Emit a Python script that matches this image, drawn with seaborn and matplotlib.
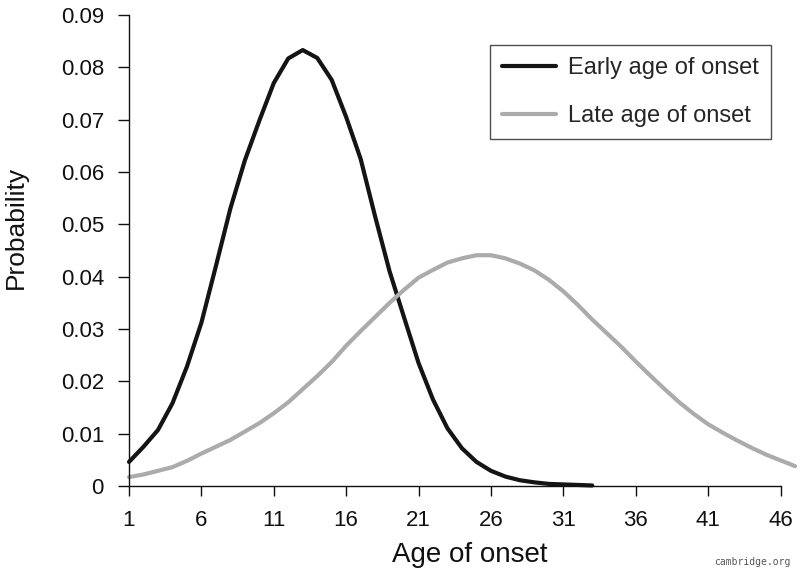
import numpy as np
import pandas as pd
import seaborn as sns
import matplotlib.pyplot as plt

# values
early_age = list(range(1, 34))
early_prob = [0.0046, 0.0075, 0.0107, 0.0158, 0.0228, 0.0312, 0.0420, 0.0530,
              0.0622, 0.0698, 0.0770, 0.0817, 0.0833, 0.0818, 0.0776, 0.0705,
              0.0625, 0.0515, 0.0410, 0.0322, 0.0235, 0.0165, 0.0110, 0.0072,
              0.0046, 0.0029, 0.0018, 0.0011, 0.0007, 0.0004, 0.0003, 0.0002,
              0.0001]

late_age = list(range(1, 48))
late_prob = [0.0017, 0.0022, 0.0029, 0.0036, 0.0048, 0.0062, 0.0075, 0.0088,
             0.0104, 0.0120, 0.0139, 0.0160, 0.0185, 0.0210, 0.0237, 0.0268,
             0.0296, 0.0323, 0.0350, 0.0375, 0.0398, 0.0413, 0.0427, 0.0435,
             0.0441, 0.0441, 0.0435, 0.0425, 0.0412, 0.0394, 0.0372, 0.0346,
             0.0318, 0.0292, 0.0266, 0.0238, 0.0211, 0.0185, 0.0160, 0.0138,
             0.0118, 0.0102, 0.0087, 0.0073, 0.0060, 0.0049, 0.0038]

x_ticks = [1, 6, 11, 16, 21, 26, 31, 36, 41, 46]
y_ticks = [0, 0.01, 0.02, 0.03, 0.04, 0.05, 0.06, 0.07, 0.08, 0.09]
y_labels = ['0', '0.01', '0.02', '0.03', '0.04', '0.05', '0.06', '0.07', '0.08', '0.09']

sns.set_theme(style="ticks")
plt.rcParams['font.family'] = ['Liberation Sans', 'DejaVu Sans']

fig = plt.figure(figsize=(8, 5.76), dpi=100)
ax = fig.add_axes([129 / 800, 90 / 576, 666 / 800, 471 / 576])

sns.lineplot(x=early_age, y=early_prob, ax=ax, color='#141414', lw=3.0,
             label='Early age of onset', clip_on=False)
sns.lineplot(x=late_age, y=late_prob, ax=ax, color='#ababab', lw=3.0,
             label='Late age of onset', clip_on=False)

ax.set_xlim(1, 47)
ax.set_ylim(0, 0.09)
ax.set_xticks(x_ticks)
ax.set_yticks(y_ticks)
ax.set_yticklabels(y_labels)

for side in ['top', 'right']:
    ax.spines[side].set_visible(False)
ax.spines['bottom'].set_bounds(1, 46)
ax.spines['left'].set_bounds(0, 0.09)
for side in ['bottom', 'left']:
    ax.spines[side].set_linewidth(1.0)
    ax.spines[side].set_color('#111111')

ax.tick_params(axis='x', direction='out', length=7.5, width=1.0, pad=10,
               labelsize=16, colors='#111111')
ax.tick_params(axis='y', direction='out', length=8, width=1.0, pad=10,
               labelsize=16, colors='#111111')

ax.set_xlabel('Age of onset', fontsize=20, color='#111111')
ax.set_ylabel('Probability', fontsize=19, color='#111111')
ax.xaxis.set_label_coords(0.511, -0.118)
ax.yaxis.set_label_coords(-0.152, 0.548)

leg = ax.legend(loc='upper right', bbox_to_anchor=(770.7 / 800, 1 - 45 / 576),
                bbox_transform=fig.transFigure, borderaxespad=0,
                fontsize=17, frameon=True, fancybox=False, handlelength=2.3,
                handletextpad=0.5, labelspacing=1.1, borderpad=0.5)
leg.get_frame().set_edgecolor('#222222')
leg.get_frame().set_linewidth(1.0)

fig.text(0.988, 0.015, 'cambridge.org', family='DejaVu Sans Mono', fontsize=7,
         color='#555555', ha='right', va='bottom')

fig.savefig('out.png', dpi=100)
